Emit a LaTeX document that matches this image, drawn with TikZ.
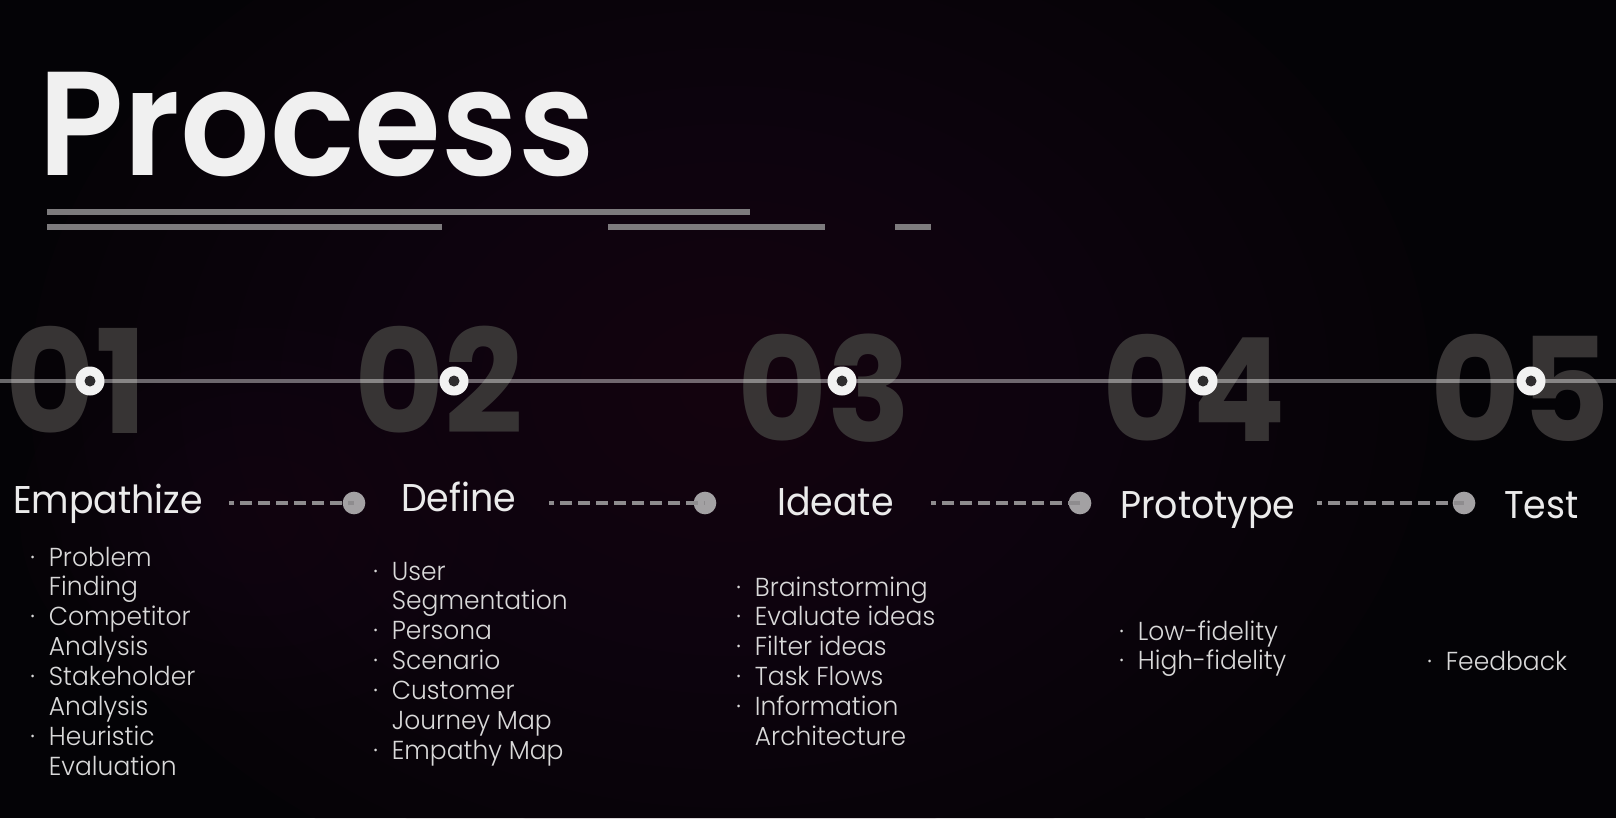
\documentclass[tikz,border=0pt]{standalone}
\usepackage{fontspec}
\setmainfont{Poppins}
\newfontfamily\lightfont[FakeStretch=0.96]{Poppins Light}
\newfontfamily\semifont[FakeStretch=0.95]{Poppins SemiBold}
\newfontfamily\regfont[FakeStretch=0.94]{Poppins}
\newfontfamily\boldfont[FakeStretch=0.96]{Poppins Bold}

\definecolor{bgdark}{HTML}{040306}
\definecolor{glow}{HTML}{2A1020}
\definecolor{barcol}{HTML}{7D7B7D}
\definecolor{numcol}{HTML}{3A3737}
\definecolor{dotcol}{HTML}{A3A1A3}
\definecolor{dashcol}{HTML}{8E8C8E}
\definecolor{ringin}{HTML}{2E2C2E}

\newcommand\bul{\makebox[14pt][l]{·}}
\newcommand\ind{\hspace*{14pt}}

\tikzset{
  x=0.75pt, y=-0.75pt,
  titletext/.style={anchor=base west, inner sep=0, text=white!94!black,
    font=\semifont\fontsize{111}{111}\selectfont},
  bigdigits/.style={anchor=base west, inner sep=0, text=numcol, opacity=0.95,
    font=\boldfont\fontsize{108}{108}\selectfont},
  phase/.style={anchor=base west, inner sep=0, text=white!92!black,
    font=\regfont\fontsize{29}{29}\selectfont},
  item/.style={anchor=base west, inner sep=0, text=white!85!black,
    font=\lightfont\fontsize{19.5}{22}\selectfont},
  bar/.style={draw=barcol, line width=3.8pt},
  ring/.style={circle, fill=white!95!black, minimum size=21.75pt, inner sep=0},
  ringhole/.style={circle, fill=ringin, minimum size=8.25pt, inner sep=0},
  enddot/.style={circle, fill=dotcol, minimum size=17pt, inner sep=0},
  dashlink/.style={draw=dashcol, line width=2.8pt, dash pattern=on 9pt off 4.5pt, dash phase=5pt},
  glowlayer/.style={fill=glow, opacity=0.055},
}

\begin{document}
\begin{tikzpicture}
  % canvas and a soft layered glow
  \useasboundingbox (0,0) rectangle (1616,818);
  \fill[bgdark] (0,0) rectangle (1616,818);
  \begin{scope}
    \clip (0,0) rectangle (1616,818);
    \foreach \r in {1,...,14}
      \fill[glowlayer] (730,390) ellipse ({50*\r} and {38*\r});
    \foreach \r in {1,...,6}
      \fill[glowlayer] (260,520) ellipse ({40*\r} and {32*\r});
  \end{scope}

  % title and its underline bars
  \node[titletext] (title) at (38,175) {Process};
  \coordinate (b1a) at (47,212);  \coordinate (b1b) at (750,212);
  \coordinate (b2a) at (47,227);  \coordinate (b2b) at (442,227);
  \coordinate (b3a) at (608,227); \coordinate (b3b) at (825,227);
  \coordinate (b4a) at (895,227); \coordinate (b4b) at (931,227);
  \draw[bar] (b1a) -- (b1b);
  \draw[bar] (b2a) -- (b2b);
  \draw[bar] (b3a) -- (b3b);
  \draw[bar] (b4a) -- (b4b);

  % large step numbers
  \node[bigdigits] (n1) at (5,433) {01};
  \node[bigdigits] (n2) at (354,433) {02};
  \node[bigdigits] (n3) at (737,441) {03};
  \node[bigdigits] (n4) at (1102,441) {04};
  \node[bigdigits] (n5) at (1430,441) {05};

  % timeline
  \coordinate (tl) at (0,381);
  \coordinate (tr) at (1616,381);
  \draw[white, opacity=0.4, line width=2.4pt] (tl) -- (tr);
  \foreach \x [count=\i] in {90,454,842,1203,1531} {
    \node[ring] (r\i) at (\x,381) {};
    \node[ringhole] (h\i) at (r\i.center) {};
  }

  % phase titles
  \node[phase] (p1) at (13,513) {Empathize};
  \node[phase] (p2) at (401,511) {Define};
  \node[phase] (p3) at (777,515) {Ideate};
  \node[phase] (p4) at (1120,518) {Prototype};
  \node[phase] (p5) at (1504,518) {Test};

  % dashed connectors ending in a dot
  \node[enddot] (d1) at (354,503) {};
  \node[enddot] (d2) at (705,503) {};
  \node[enddot] (d3) at (1080,503) {};
  \node[enddot] (d4) at (1464,503) {};
  \coordinate (s1) at (229,503);
  \coordinate (s2) at (549,503);
  \coordinate (s3) at (931,503);
  \coordinate (s4) at (1317,503);
  \foreach \i in {1,2,3,4} \draw[dashlink] (s\i) -- (d\i.center);

  % step contents
  \foreach \t [count=\i] in {{\bul Problem},{\ind Finding},{\bul Competitor},{\ind Analysis},
      {\bul Stakeholder},{\ind Analysis},{\bul Heuristic},{\ind Evaluation}}
    \node[item] (ea\i) at (30,{566+29.9*(\i-1)}) {\t};
  \foreach \t [count=\i] in {{\bul User},{\ind Segmentation},{\bul Persona},{\bul Scenario},
      {\bul Customer},{\ind Journey Map},{\bul Empathy Map}}
    \node[item] (da\i) at (373,{580+29.9*(\i-1)}) {\t};
  \foreach \t [count=\i] in {{\bul Brainstorming},{\bul Evaluate ideas},{\bul Filter ideas},
      {\bul Task Flows},{\bul Information},{\ind Architecture}}
    \node[item] (ia\i) at (736,{596+29.9*(\i-1)}) {\t};
  \foreach \t [count=\i] in {{\bul Low-fidelity},{\bul High-fidelity}}
    \node[item] (pa\i) at (1119,{640+29.9*(\i-1)}) {\t};
  \node[item] (ta1) at (1427,670) {\bul Feedback};
\end{tikzpicture}
\end{document}
